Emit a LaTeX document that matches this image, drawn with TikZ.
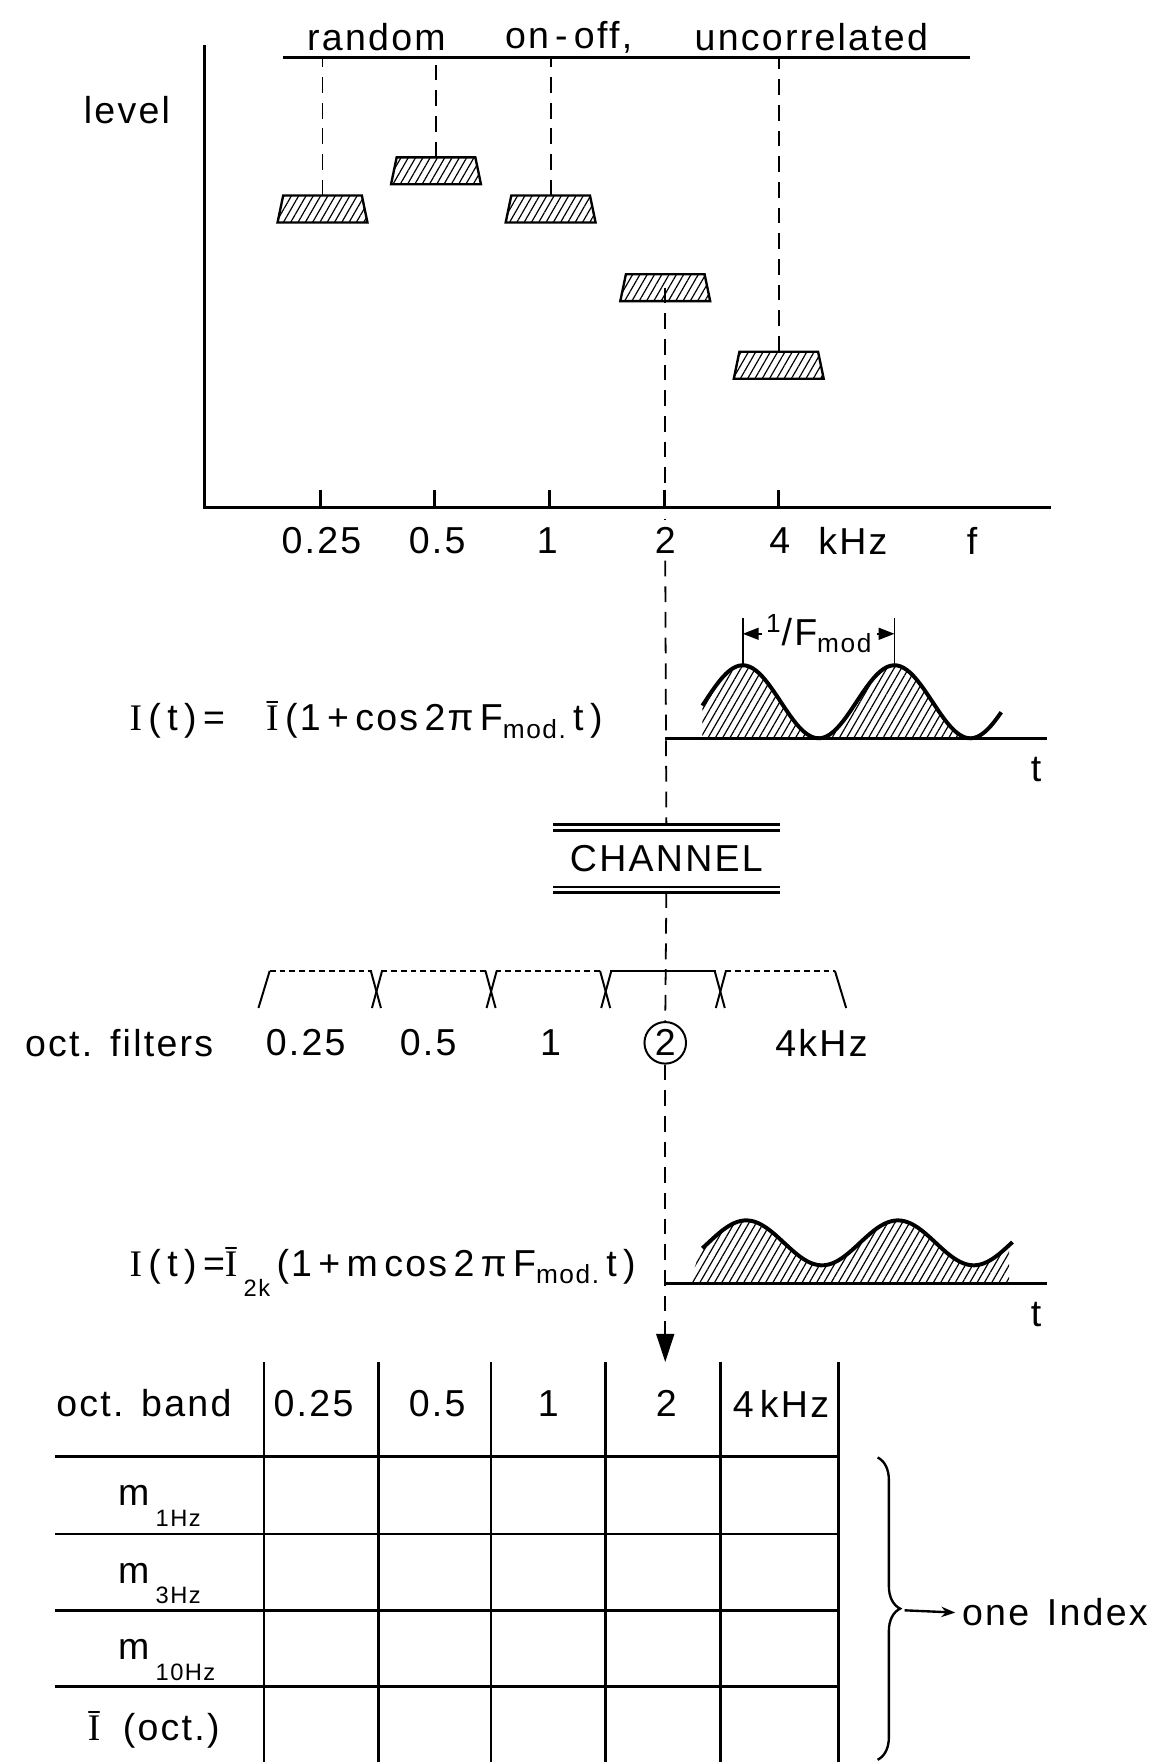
\documentclass[tikz,border=0pt]{standalone}
\usepackage{fontspec}
\setmainfont{Liberation Sans}[LetterSpace=6,WordSpace=1.4]
\newfontfamily\serifI{Liberation Serif}
\usetikzlibrary{arrows.meta,patterns.meta,decorations.pathreplacing}

\newcommand\lowsub[1]{\,\raisebox{-0.55em}{\fontsize{12}{12}\selectfont #1}}
\newcommand\eqgap{\hspace{0.17em}}
\newcommand\eqI{{\serifI I}}
\newcommand\eqIbar{{\serifI Ī}}

\begin{document}
\begin{tikzpicture}[x=0.02cm,y=-0.02cm,
    every node/.style={font=\fontsize{19}{22}\selectfont},
    axis/.style={line width=1.5pt},
    guide/.style={line width=0.9pt,dash pattern=on 8pt off 5pt},
    hatch/.style={pattern={Lines[angle=60,distance=3.2pt,line width=0.6pt]}},
    band/.style={draw,line width=1.2pt,hatch},
    wave/.style={line width=2pt},
    grid/.style={line width=1.3pt}]
    \useasboundingbox (0,0) rectangle (1031,1568);

    \draw[axis] (182,40) -- (182,452) -- (935,452);
    \foreach \x in {285,387,489,591,693}
      \draw[axis] (\x,436) -- (\x,452);
    \foreach \x/\t/\n in {286/0.25/fa,389/0.5/fb,487/1/fc,592/2/fd,694/4/fe}
      \node (\n) at (\x,481) {\t};
    \node (khz) at (759,481) {kHz};
    \node (fr) at (865,481) {f};
    \node (lvl) at (113,98) {level};

    \coordinate (barL) at (252,51);
    \coordinate (barR) at (863,51);
    \draw[axis] (barL) -- (barR);
    \node (wa) at (335,33) {random};
    \node (wb) at (506,33) {on\,-\,off,};
    \node (wc) at (722,33) {uncorrelated};

    \foreach \x/\y/\n in {287/174/ta,388/140/tb,490/174/tc,592/244/td,693/313/te} {
      \coordinate (\n) at (\x,\y);
      \draw[band] (\n) ++(-35,0) -- ++(70,0) -- ++(5,24) -- ++(-80,0) -- cycle;
    }
    \foreach \n in {ta,tb,tc,te}
      \draw[guide] (\n) -- (\n |- barL);
    \draw[guide] ([shift={(0,12)}]td) -- (fd.north);

    \node[anchor=west,inner sep=0pt] (eqa) at (115,641)
      {\eqI\eqgap(\eqgap t\eqgap)\eqgap=\hspace{1.1em}\eqIbar\eqgap(1\eqgap+\eqgap cos\eqgap 2π\eqgap F\textsubscript{mod.}\,t\eqgap)};
    \fill[hatch] (625,657) -- plot[domain=625:863.5,samples=80]
      (\x,{657-32.5*(1+cos((\x-661)*2.6667))}) -- (863.5,657) -- cycle;
    \draw[wave] plot[domain=625:891,samples=90]
      (\x,{657-32.5*(1+cos((\x-661)*2.6667))});
    \draw[axis] (592,657) -- (932,657);
    \node (ta1) at (922,685) {t};
    \coordinate (pa) at (661,550);
    \coordinate (pb) at (796,550);
    \draw[line width=0.9pt] (pa) -- (661,592);
    \draw[line width=0.9pt] (pb) -- (796,592);
    \node[inner sep=2pt] (per) at (729,564) {\textsuperscript{1}/F\textsubscript{mod}};
    \draw[line width=0.9pt,-{Triangle[length=8pt,width=6pt]}] (per.west) -- (per.west -| pa);
    \draw[line width=0.9pt,-{Triangle[length=8pt,width=6pt]}] (per.east) -- (per.east -| pb);

    \node[minimum width=4.02cm,minimum height=1cm,inner sep=0pt] (chan) at (593,764) {CHANNEL};
    \draw[axis] (chan.north west) -- (chan.north east);
    \draw[axis] ([yshift=2.6pt]chan.north west) -- ([yshift=2.6pt]chan.north east);
    \draw[axis] (chan.south west) -- (chan.south east);
    \draw[axis] ([yshift=-2.6pt]chan.south west) -- ([yshift=-2.6pt]chan.south east);
    \draw[guide] (fd.south) -- ([yshift=2.6pt]chan.north);

    \foreach \a/\b in {240/331,339/433,441/535,645/743}
      \draw[line width=1pt,dash pattern=on 3pt off 2pt] (\a,864) -- (\b,864);
    \draw[line width=1.3pt] (543,864) -- (637,864);
    \foreach \c in {335,437,539,641} {
      \draw[line width=1pt] ({\c-5},864) -- ({\c+4},897);
      \draw[line width=1pt] ({\c+5},864) -- ({\c-4},897);
    }
    \draw[line width=1pt] (240,864) -- (230,897);
    \draw[line width=1pt] (743,864) -- (753,897);
    \node (oct) at (106,928) {oct.\ filters};
    \foreach \x/\t/\n in {272/0.25/ga,381/0.5/gb,490/1/gc,731/4kHz/ge}
      \node (\n) at (\x,928) {\t};
    \node[draw,circle,line width=1pt,minimum size=0.74cm,inner sep=0pt] (sel) at (592,928) {2};
    \draw[guide] ([yshift=-2.6pt]chan.south) -- (sel.north);

    \node[anchor=west,inner sep=0pt] (eqb) at (115,1132)
      {\eqI\eqgap(\eqgap t\eqgap)\eqgap=\eqIbar\lowsub{2k}\eqgap(1\eqgap+\eqgap m\eqgap cos\eqgap 2\eqgap π\eqgap F\textsubscript{mod.}\,t\eqgap)};
    \fill[hatch] (614,1142) -- (625,1106) -- plot[domain=625:898,samples=90]
      (\x,{1106-20*cos((\x-664)*2.6667)}) -- (898,1142) -- cycle;
    \draw[wave] plot[domain=625:901,samples=90]
      (\x,{1106-20*cos((\x-664)*2.6667)});
    \draw[axis] (592,1142) -- (932,1142);
    \node (tb1) at (922,1170) {t};

    \coordinate (hdr) at (592,1212);
    \draw[guide,-{Triangle[length=0.5cm,width=0.32cm]}] (sel.south) -- (hdr);

    \foreach \x in {235,337,437,539,641,746}
      \draw[grid] (\x,1212) -- (\x,1570);
    \foreach \y in {1296,1365,1433,1501}
      \draw[grid] (49,\y) -- (746,\y);
    \node (hob) at (128,1249) {oct.\ band};
    \foreach \x/\t/\n in {279/0.25/ha,389/0.5/hb,488/1/hc,593/2/hd,695/4\,kHz/he}
      \node (\n) at (\x,1249) {\t};
    \node[anchor=base west] (ma) at (99,1340) {m\lowsub{1Hz}};
    \node[anchor=base west] (mb) at (99,1409) {m\lowsub{3Hz}};
    \node[anchor=base west] (mc) at (99,1477) {m\lowsub{10Hz}};
    \node[anchor=west] (iav) at (72,1539) {\eqIbar\hspace{0.6em}(oct.)};

    \draw[line width=1.2pt,decorate,decoration={brace,amplitude=0.4cm}] (781,1297) -- (781,1566);
    \coordinate (brt) at (805,1433);
    \node[anchor=west] (idx) at (850,1435) {one Index};
    \draw[line width=1.2pt,-{Stealth[length=7pt]}] (brt) -- (idx.west);
\end{tikzpicture}
\end{document}
